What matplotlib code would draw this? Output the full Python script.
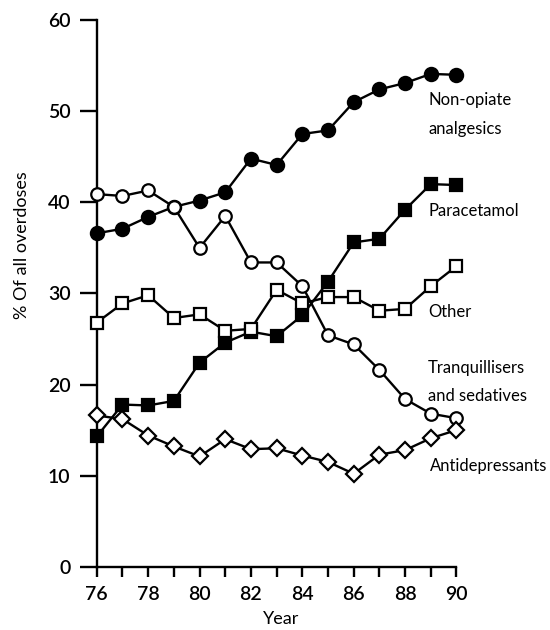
import matplotlib
matplotlib.use("Agg")
import matplotlib.pyplot as plt

plt.rcParams["font.family"] = ["Lato", "DejaVu Sans"]

years = list(range(76, 91))

non_opiate = [36.6, 37.1, 38.4, 39.5, 40.2, 41.1, 44.8, 44.1, 47.5, 47.9, 51.0, 52.4, 53.1, 54.1, 54.0]
paracetamol = [14.3, 17.8, 17.7, 18.2, 22.4, 24.6, 25.8, 25.3, 27.6, 31.3, 35.6, 36.0, 39.2, 42.0, 41.9]
other = [26.8, 28.9, 29.8, 27.3, 27.7, 25.9, 26.1, 30.4, 28.9, 29.6, 29.6, 28.1, 28.3, 30.8, 33.0]
tranquillisers = [40.9, 40.7, 41.3, 39.5, 35.0, 38.5, 33.4, 33.4, 30.8, 25.4, 24.4, 21.6, 18.4, 16.8, 16.3]
antidepressants = [16.6, 16.2, 14.4, 13.2, 12.1, 14.0, 12.9, 13.0, 12.2, 11.5, 10.2, 12.3, 12.8, 14.1, 15.0]

fig = plt.figure(figsize=(5.5, 6.3), dpi=100)
ax = fig.add_axes([0.176, 0.1005, 0.654, 0.8675])

line_kw = dict(color="black", lw=1.7, clip_on=False, markeredgecolor="black", markeredgewidth=1.6)

ax.plot(years, paracetamol, marker="s", ms=9, markerfacecolor="black", zorder=3, **line_kw)
ax.plot(years, other, marker="s", ms=9, markerfacecolor="white", zorder=4, **line_kw)
ax.plot(years, non_opiate, marker="o", ms=9.5, markerfacecolor="black", zorder=3, **line_kw)
ax.plot(years, tranquillisers, marker="o", ms=9, markerfacecolor="white", zorder=4, **line_kw)
ax.plot(years, antidepressants, marker="D", ms=8.5, markerfacecolor="white", zorder=4, **line_kw)

ax.set_xlim(76, 90)
ax.set_ylim(0, 60)
ax.set_xticks(years)
ax.set_xticklabels([str(y) if y % 2 == 0 else "" for y in years])
ax.set_yticks(range(0, 61, 10))

for s in ["top", "right"]:
    ax.spines[s].set_visible(False)
for s in ["left", "bottom"]:
    ax.spines[s].set_linewidth(1.7)

ax.tick_params(axis="y", direction="out", length=12, width=1.7, pad=7, labelsize=14)
ax.tick_params(axis="x", direction="out", length=7, width=1.7, pad=7, labelsize=14)
for lab in ax.get_xticklabels() + ax.get_yticklabels():
    lab.set_fontweight("semibold")

# series labels
lab_kw = dict(fontsize=12, ha="left", va="center")
ax.text(88.9, 51.2, "Non-opiate", **lab_kw)
ax.text(88.9, 48.1, "analgesics", **lab_kw)
ax.text(88.9, 39.0, "Paracetamol", **lab_kw)
ax.text(88.9, 28.0, "Other", **lab_kw)
ax.text(88.9, 21.8, "Tranquillisers", **lab_kw)
ax.text(88.9, 18.7, "and sedatives", **lab_kw)
ax.text(88.97, 11.1, "Antidepressants", **lab_kw)

fig.text(22 / 550, 1 - 245 / 630, "% Of all overdoses", rotation=90,
         ha="center", va="center", fontsize=13)
fig.text(281 / 550, 1 - 619 / 630, "Year", ha="center", va="center", fontsize=13)

fig.savefig("out.png", dpi=100)
